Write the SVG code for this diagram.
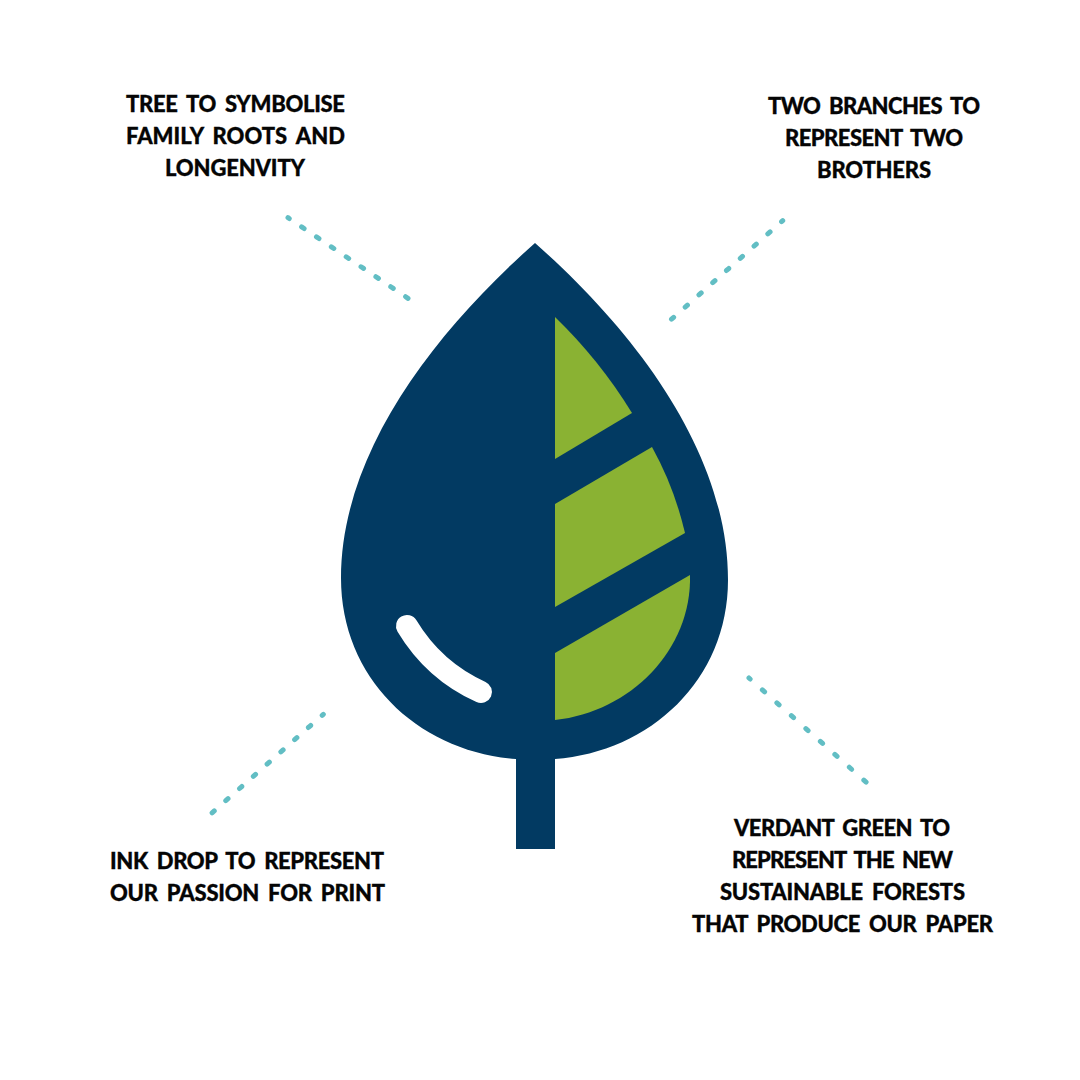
<svg xmlns="http://www.w3.org/2000/svg" width="1080" height="1080" viewBox="0 0 1080 1080">
<style>
.t{font-family:"Lato","Liberation Sans",sans-serif;font-weight:900;font-size:22px;fill:#050505;word-spacing:4px;stroke:#050505;stroke-width:.3px}
.c{fill:none;stroke:#62bec4;stroke-width:5;stroke-linecap:round;stroke-dashoffset:1.5}
.g{fill:#8ab233}
</style>
<rect width="1080" height="1080" fill="#fff"/>
<g id="leaf">
<path fill="#023a62" d="M535 243C639 335 728 455 728 580C728 680 650 752 555 759V849H516V759C420 752 341 680 341 578C341 455 431 335 535 243Z"/>
<path class="g" d="M555 317C584 345 610 377 632 413L555 459Z"/>
<path class="g" d="M652 447C667 474 678 503 685 533L555 607V504Z"/>
<path class="g" d="M690 575C692 650 630 712 555 720V653Z"/>
<path fill="none" stroke="#fff" stroke-width="22" stroke-linecap="round" d="M407 626C425 656 450 678 481 692"/>
</g>
<g id="connectors">
<path class="c" stroke-dasharray="3 14.9" d="M288 217.7L408 298.3"/>
<path class="c" stroke-dasharray="3 15.4" d="M782.7 220.7L671.5 319.2"/>
<path class="c" stroke-dasharray="3 15.4" d="M323.3 714.3L212.1 812.8"/>
<path class="c" stroke-dasharray="3 16.4" d="M749 678L866.5 782.5"/>
</g>
<g id="label-tree">
<text class="t" x="126" y="112" textLength="219">TREE TO SYMBOLISE</text>
<text class="t" x="126" y="144" textLength="219">FAMILY ROOTS AND</text>
<text class="t" x="165" y="176" textLength="140">LONGENVITY</text>
</g>
<g id="label-branches">
<text class="t" x="768" y="114" textLength="212">TWO BRANCHES TO</text>
<text class="t" x="785" y="146" textLength="178">REPRESENT TWO</text>
<text class="t" x="817" y="178" textLength="114">BROTHERS</text>
</g>
<g id="label-ink">
<text class="t" x="110" y="869" textLength="274">INK DROP TO REPRESENT</text>
<text class="t" x="110" y="901" textLength="275">OUR PASSION FOR PRINT</text>
</g>
<g id="label-green">
<text class="t" x="734" y="836" textLength="216">VERDANT GREEN TO</text>
<text class="t" x="732" y="868" textLength="221">REPRESENT THE NEW</text>
<text class="t" x="720" y="900" textLength="245">SUSTAINABLE FORESTS</text>
<text class="t" x="692" y="932" textLength="301">THAT PRODUCE OUR PAPER</text>
</g>
</svg>
